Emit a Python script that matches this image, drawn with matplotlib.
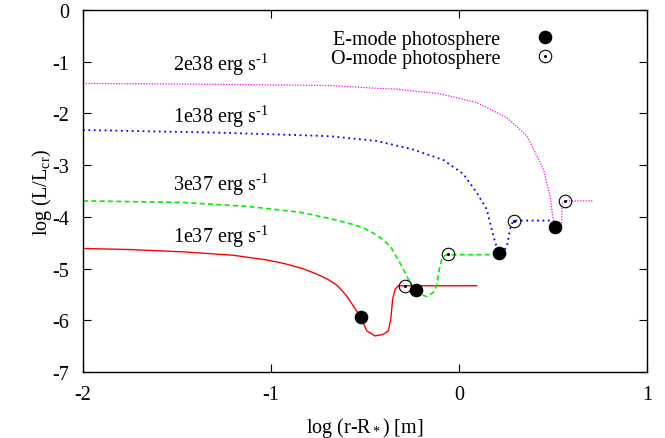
import matplotlib
matplotlib.use("Agg")
import matplotlib.pyplot as plt
from matplotlib.legend_handler import HandlerTuple

plt.rcParams['font.family'] = ['Liberation Serif', 'DejaVu Serif']
plt.rcParams['mathtext.fontset'] = 'custom'
plt.rcParams['mathtext.rm'] = 'Liberation Serif'
plt.rcParams['mathtext.it'] = 'Liberation Serif:italic'
plt.rcParams['mathtext.bf'] = 'Liberation Serif:bold'
plt.rcParams['axes.unicode_minus'] = False

FS = 14.5

# 1e37 erg/s (red, solid)
red_x = [-2, -1.75, -1.468, -1.202, -1.025, -0.93, -0.83, -0.76, -0.70, -0.646, -0.597, -0.544,
         -0.523, -0.491, -0.447, -0.403, -0.376, -0.363, -0.353, -0.34, -0.323, 0.094]
red_y = [-4.61, -4.63, -4.675, -4.74, -4.83, -4.90, -5.00, -5.10, -5.20, -5.33, -5.53, -5.82,
         -5.94, -6.20, -6.30, -6.27, -6.20, -5.98, -5.59, -5.40, -5.33, -5.33]

# 3e37 erg/s (green, dashed)
green_x = [-2, -1.468, -1.113, -0.847, -0.686, -0.58, -0.509, -0.457, -0.42, -0.367, -0.35,
           -0.296, -0.252, -0.207, -0.172, -0.137, -0.119, -0.105, -0.092, -0.074, -0.06, 0.27]
green_y = [-3.69, -3.72, -3.80, -3.91, -4.03, -4.13, -4.21, -4.31, -4.40, -4.56, -4.66,
           -5.01, -5.33, -5.49, -5.54, -5.46, -5.33, -5.01, -4.82, -4.74, -4.73, -4.73]

# 1e38 erg/s (blue, dotted)
blue_x = [-2, -1.29, -0.759, -0.686, -0.44, -0.25, -0.083, 0.023, 0.094, 0.147, 0.183,
          0.20, 0.21, 0.235, 0.254, 0.271, 0.286, 0.294, 0.50]
blue_y = [-2.32, -2.37, -2.43, -2.44, -2.53, -2.69, -2.90, -3.17, -3.53, -3.85, -4.37,
          -4.58, -4.69, -4.65, -4.59, -4.24, -4.09, -4.07, -4.07]

# 2e38 erg/s (magenta, fine dots)
mag_x = [-2, -1.5, -0.686, -0.457, -0.331, -0.101, 0.094, 0.254, 0.36, 0.449, 0.484,
         0.50, 0.512, 0.535, 0.546, 0.548, 0.566, 0.714]
mag_y = [-1.42, -1.43, -1.46, -1.51, -1.53, -1.62, -1.79, -2.08, -2.43, -3.08, -3.59,
         -4.04, -4.20, -4.17, -4.15, -3.74, -3.69, -3.69]

# photospheres
e_x = [-0.523, -0.23, 0.21, 0.512]
e_y = [-5.94, -5.42, -4.69, -4.20]
o_x = [-0.286, -0.06, 0.294, 0.566]
o_y = [-5.33, -4.72, -4.07, -3.69]

curve_labels = ["2e38", "1e38", "3e37", "1e37"]
label_x = [-1.52, -1.52, -1.52, -1.52]
label_y = [-1.04, -2.05, -3.37, -4.37]

fig = plt.figure(figsize=(6.65, 4.39), dpi=100)
ax = fig.add_axes([0.1248, 0.150, 0.8482, 0.825])

ax.plot(red_x, red_y, color='#ff0000', lw=1.0, ls='-')
ax.plot(green_x, green_y, color='#00ee00', lw=1.2, ls=(0, (3, 2)))
ax.plot(blue_x, blue_y, color='#0000ff', lw=1.3, ls=(0, (1, 2.0)))
ax.plot(mag_x, mag_y, color='#ff00ff', lw=0.9, ls=(0, (1, 1.2)))

he, = ax.plot(e_x, e_y, ls='none', marker='o', ms=8.8, color='black', zorder=5)
ho, = ax.plot(o_x, o_y, ls='none', marker='o', ms=9.0, mfc='none', mec='black',
              mew=0.8, zorder=5)
hd, = ax.plot(o_x, o_y, ls='none', marker='o', ms=1.2, color='black', zorder=6)

for t, x, y in zip(curve_labels, label_x, label_y):
    ax.text(x, y, t + r' erg s$^{\text{-1}}$', fontsize=FS, ha='left', va='center')

ax.set_xlim(-2, 1)
ax.set_ylim(-7, 0)
ax.set_xticks([-2, -1, 0, 1])
ax.set_yticks([0, -1, -2, -3, -4, -5, -6, -7])
ax.tick_params(direction='in', top=True, right=True, length=6, width=0.8,
               labelsize=FS)
ax.tick_params(axis='y', pad=10)
ax.tick_params(axis='x', pad=9)
for s in ax.spines.values():
    s.set_linewidth(1.0)

ax.set_xlabel(r'log (r-R$_*$) [m]', fontsize=FS, labelpad=8)
ax.set_ylabel(r'log (L/L$_{\mathrm{cr}}$)', fontsize=FS, labelpad=-1)

leg = ax.legend([he, (ho, hd)], ['E-mode photosphere', 'O-mode photosphere'],
                handler_map={tuple: HandlerTuple(ndivide=1)},
                loc='upper right', bbox_to_anchor=(0.854, 0.946), frameon=False,
                markerfirst=False, fontsize=FS, handlelength=2.0, handletextpad=1.2,
                labelspacing=0.0, borderpad=0, borderaxespad=0)

fig.savefig('out.png', dpi=100)
